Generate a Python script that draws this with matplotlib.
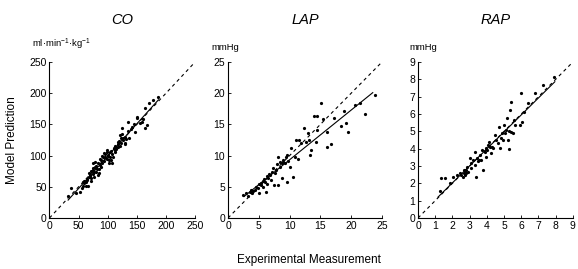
import matplotlib.pyplot as plt
import numpy as np

plt.rcParams['font.family'] = ['Liberation Sans', 'DejaVu Sans']
plt.rcParams['mathtext.default'] = 'regular'

# --- CO (ml/min/kg) ---
co_x = [37, 32, 52, 57.5, 60, 62, 64, 69, 72, 75, 74, 78, 80.5, 83, 86, 89, 92, 94, 97, 98,
        100.5, 103.5, 106, 102, 109, 112, 115, 118, 121, 124, 122, 126.5, 129, 135, 141, 147,
        150, 158, 164, 167, 164, 170, 178, 187,
        60, 63, 65, 67, 68, 70, 72, 74, 75, 77, 78, 80, 82, 84, 85, 87, 88, 90, 91, 93, 95, 96,
        98, 99, 101, 102, 104, 105, 107, 108, 110, 112, 113, 115, 117, 118, 120, 121, 123, 125,
        127, 129, 130, 132, 134, 137, 140, 145, 150, 155, 160, 58, 55, 45, 66, 72, 76, 85]
co_y = [47.5, 35, 42, 58, 55.5, 51, 61, 69, 63.5, 77, 87.5, 82, 74, 69, 85, 93, 98, 103.5, 95.5, 109,
        101, 106, 93, 87.5, 98, 109, 114, 122, 133, 144, 120, 128, 120, 154, 146, 138,
        162, 154, 176, 149, 144, 184, 189, 194,
        60, 57, 62, 66, 72, 68, 75, 70, 80, 73, 90, 84, 78, 88, 72, 95, 82, 100, 88, 92, 103, 97,
        94, 105, 99, 93, 97, 108, 102, 88, 112, 105, 116, 110, 118, 113, 124, 116, 128, 134,
        125, 130, 118, 126, 140, 128, 142, 150, 160, 152, 158, 52, 48, 40, 52, 60, 65, 78]
co_fit = [32, 187]

# --- LAP (mmHg) ---
lap_x = [2.4, 3.0, 3.2, 3.5, 3.9, 4.3, 4.9, 5.1, 5.4, 5.7, 6.0, 6.2, 6.4, 6.5, 6.8, 7.0, 7.3, 7.5,
         7.6, 7.8, 8.1, 8.1, 8.4, 8.7, 8.8, 8.9, 9.2, 9.5, 9.6, 9.7, 10.0, 10.3, 10.5, 10.8, 11.1,
         11.4, 11.6, 11.9, 12.3, 12.6, 13.0, 13.1, 13.4, 13.3, 14.0, 14.5, 14.5, 14.3, 15.1, 15.4,
         16.0, 16.1, 16.8, 17.2, 18.3, 18.8, 19.2, 19.4, 20.6, 21.4, 22.3, 23.8,
         4.6, 5.0, 5.3, 5.6, 5.9, 6.3, 6.6, 7.1, 7.9, 8.5, 9.0, 9.4, 3.7, 4.1]
lap_y = [3.7, 4.0, 3.5, 4.2, 4.0, 4.5, 4.8, 4.0, 5.3, 5.0, 5.8, 4.2, 5.5, 6.4, 6.9, 6.1, 8.0, 5.3,
         7.2, 7.7, 9.8, 5.3, 8.2, 8.8, 6.4, 9.0, 8.8, 10.1, 5.8, 9.2, 8.2, 11.2, 6.6, 9.8, 12.5,
         9.5, 12.5, 12.0, 14.4, 12.2, 13.6, 12.5, 10.9, 10.1, 16.3, 16.3, 14.1, 12.2, 18.5, 15.9,
         13.8, 11.3, 11.9, 16.0, 14.7, 17.2, 15.3, 13.7, 18.1, 18.4, 16.6, 19.7,
         5.0, 5.4, 5.6, 5.9, 6.3, 6.8, 7.0, 7.4, 8.6, 9.0, 9.3, 9.8, 4.5, 4.3]
lap_fit = [2.6, 23.5]

# --- RAP (mmHg) ---
rap_x = [1.26, 1.35, 1.55, 1.84, 2.03, 2.28, 2.42, 2.52, 2.61, 2.67, 2.71, 2.75, 2.81, 2.86, 2.90,
         3.0, 3.06, 3.10, 3.19, 3.29, 3.33, 3.39, 3.44, 3.52, 3.58, 3.68, 3.72, 3.77, 3.87, 3.93,
         3.97, 4.06, 4.12, 4.16, 4.26, 4.35, 4.45, 4.55, 4.64, 4.68, 4.74, 4.84, 4.93, 4.99, 5.07,
         5.13, 5.19, 5.22, 5.26, 5.32, 5.38, 5.42, 5.51, 5.57, 5.65, 5.90, 5.96, 6.04, 6.15, 6.39,
         6.77, 7.26, 7.89, 2.7, 2.8, 3.5, 4.0, 4.3, 4.9, 5.3]
rap_y = [1.56, 2.29, 2.29, 2.0, 2.38, 2.48, 2.58, 2.48, 2.38, 2.77, 2.48, 2.67, 2.58, 2.96, 2.67,
         3.44, 3.15, 2.87, 3.35, 3.83, 3.06, 2.38, 3.44, 3.35, 3.63, 3.35, 3.92, 2.77, 3.83, 4.02,
         3.54, 4.21, 4.40, 4.08, 3.73, 4.02, 4.79, 4.50, 4.31, 5.27, 4.02, 4.60, 4.50, 5.37, 4.88,
         5.08, 5.75, 4.50, 3.96, 6.23, 6.71, 4.98, 4.88, 5.65, 5.37, 5.37, 7.19, 5.56, 6.13, 6.62,
         7.19, 7.67, 8.12, 2.6, 2.75, 3.3, 3.95, 4.1, 4.9, 5.0]
rap_fit = [1.16, 7.95]

panels = [
    ("CO", "ml·min$^{-1}$·kg$^{-1}$", co_x, co_y, co_fit, 250, [0, 50, 100, 150, 200, 250], 0.0856, 0.252, -17),
    ("LAP", "mmHg", lap_x, lap_y, lap_fit, 25, [0, 5, 10, 15, 20, 25], 0.3945, 0.2664, -17),
    ("RAP", "mmHg", rap_x, rap_y, rap_fit, 9, list(range(10)), 0.7232, 0.268, -9),
]

fig = plt.figure(figsize=(5.78, 2.69), dpi=100)

for title, unit, x, y, fit, vmax, ticks, left, width, uoff in panels:
    ax = fig.add_axes([left, 0.1896, width, 0.58])
    x = np.array(x)
    y = np.array(y)
    ax.plot(x, y, 'o', color='black', ms=2.3, mew=0)
    # regression line
    p = np.polyfit(x, y, 1)
    fx = np.array(fit)
    ax.plot(fx, np.polyval(p, fx), color='black', lw=0.8)
    # identity line
    ax.plot([0, vmax], [0, vmax], color='black', lw=0.8, ls=(0, (3, 3)))
    ax.set_xlim(0, vmax)
    ax.set_ylim(0, vmax)
    ax.set_xticks(ticks)
    ax.set_yticks(ticks)
    ax.tick_params(direction='in', length=2, width=0.6, labelsize=7.5, pad=2)
    for s in ['top', 'right']:
        ax.spines[s].set_visible(False)
    for s in ['left', 'bottom']:
        ax.spines[s].set_linewidth(0.8)
    ax.set_title(title, fontsize=10.5, style='italic', pad=27)
    ax.annotate(unit, xy=(0, 1), xycoords='axes fraction', xytext=(uoff * 0.72, 7),
                textcoords='offset points', fontsize=6.8, ha='left', va='bottom')

fig.text(0.02, 0.48, "Model Prediction", rotation=90, ha='center', va='center', fontsize=8.5)
fig.text(0.535, 0.035, "Experimental Measurement", ha='center', va='center', fontsize=8.5)

fig.savefig("out.png", dpi=100)
